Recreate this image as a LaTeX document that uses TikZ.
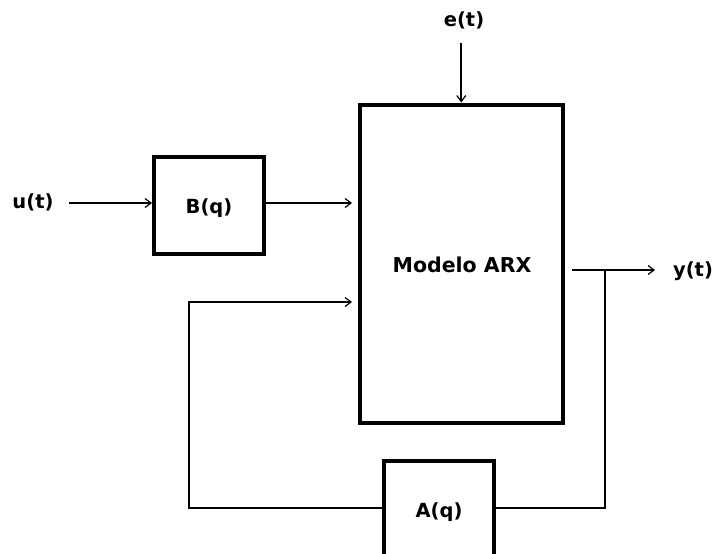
\documentclass[tikz,border=0pt]{standalone}
\usepackage{fontspec}
\setmainfont{DejaVu Sans}
\usetikzlibrary{arrows.meta}
\tikzset{
  blk/.style={draw=black, line width=4pt, inner sep=0pt},
  lbl/.style={inner sep=0pt, font=\bfseries\fontsize{19.5}{22}\selectfont},
  biglbl/.style={inner sep=0pt, font=\bfseries\fontsize{20.5}{24}\selectfont},
  wire/.style={draw=black, line width=1.6pt},
  arr/.style={wire, -{Straight Barb[length=6pt,width=9pt,line width=1.2pt]}}
}
\begin{document}
\begin{tikzpicture}[x=1pt,y=-1pt]
\clip (0,0) rectangle (716,554);
\useasboundingbox (0,0) rectangle (716,554);
\fill[white] (0,0) rectangle (716,554);
% blocks
\node[blk, minimum width=110pt, minimum height=97pt] (B) at (209,205.5) {};
\node[lbl] at (209,208) {B(q)};
\node[blk, minimum width=203.5pt, minimum height=318pt] (M) at (461.25,263.5) {};
\node[biglbl] at (462,265) {Modelo ARX};
\node[blk, minimum width=110pt, minimum height=100pt] (A) at (439,511) {};
\node[lbl] at (439,512) {A(q)};
% labels
\node[lbl] (u) at (33,202) {u(t)};
\node[lbl] (e) at (464,20) {e(t)};
\node[lbl] (y) at (693,271) {y(t)};
% coordinates
\coordinate (ustart) at (69,203);
\coordinate (bin) at (352,203);
\coordinate (estart) at (461.25,43);
\coordinate (ostart) at (572,270);
\coordinate (oend) at (655,270);
\coordinate (br) at (605,270);
\coordinate (brb) at (605,508);
\coordinate (fl) at (189,508);
\coordinate (flt) at (189,302);
\coordinate (fin) at (352,302);
% connectors
\draw[arr] (ustart) -- (ustart -| B.west);
\draw[arr] (bin -| B.east) -- (bin);
\draw[arr] (estart) -- (M.north);
\draw[arr] (ostart) -- (oend);
\draw[wire] (br) -- (brb) -- (brb -| A.east);
\draw[arr] (fl -| A.west) -- (fl) -- (flt) -- (fin);
\end{tikzpicture}
\end{document}
